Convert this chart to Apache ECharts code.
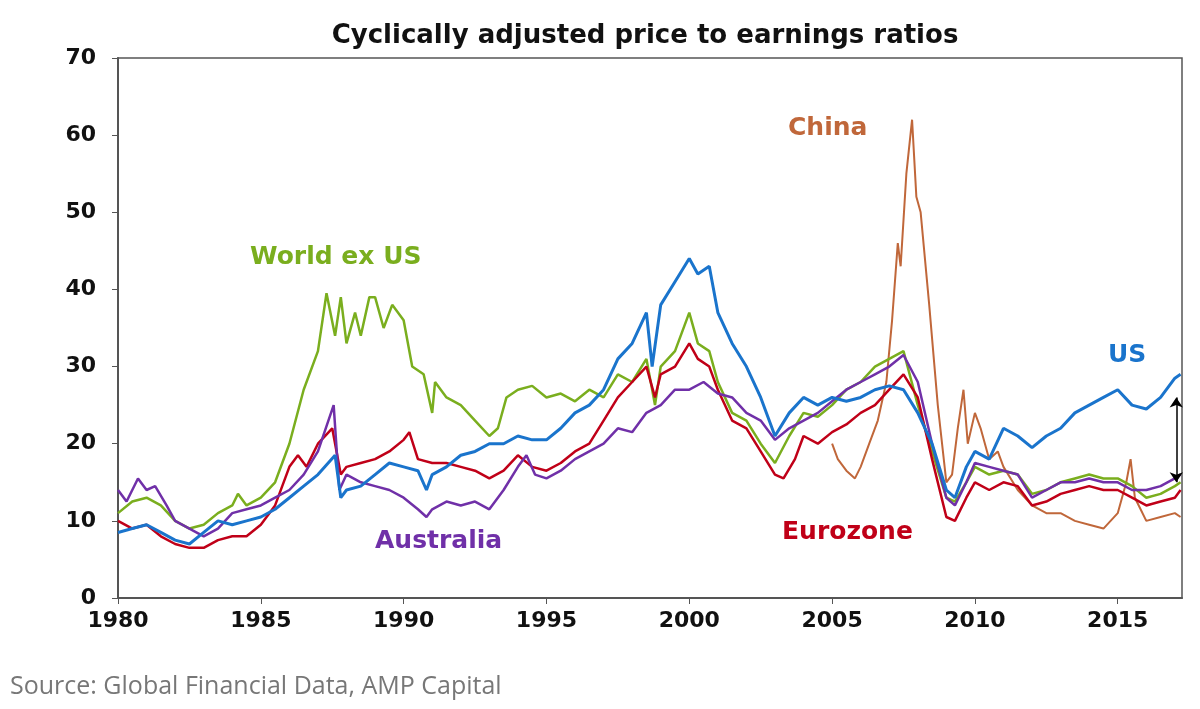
<!doctype html>
<html lang="en">
<head>
    <meta charset="UTF-8">
    <title>Cyclically adjusted price to earnings ratios</title>
    <script type="text/javascript" src="https://cdn.jsdelivr.net/npm/echarts@6/dist/echarts.min.js"></script>
    <style>
        body{margin:0;background:#fff;}
    </style>
</head>
<body>
<div id="main" style="width:1200px;height:709px;"></div>
<script>
    // CAPE values, [year, ratio]
    var us = [[1980,8.5],[1980.5,9],[1981,9.5],[1981.5,8.5],[1982,7.5],[1982.5,7],[1983,8.5],[1983.5,10],[1984,9.5],[1984.5,10],[1985,10.5],[1985.5,11.5],[1986,13],[1986.5,14.5],[1987,16],[1987.6,18.5],[1987.8,13],[1988,14],[1988.5,14.5],[1989,16],[1989.5,17.5],[1990,17],[1990.5,16.5],[1990.8,14],[1991,16],[1991.5,17],[1992,18.5],[1992.5,19],[1993,20],[1993.5,20],[1994,21],[1994.5,20.5],[1995,20.5],[1995.5,22],[1996,24],[1996.5,25],[1997,27],[1997.5,31],[1998,33],[1998.5,37],[1998.7,30],[1999,38],[1999.5,41],[2000,44],[2000.3,42],[2000.7,43],[2001,37],[2001.5,33],[2002,30],[2002.5,26],[2003,21],[2003.5,24],[2004,26],[2004.5,25],[2005,26],[2005.5,25.5],[2006,26],[2006.5,27],[2007,27.5],[2007.5,27],[2008,24],[2008.5,20],[2009,14],[2009.3,13],[2009.7,17],[2010,19],[2010.5,18],[2011,22],[2011.5,21],[2012,19.5],[2012.5,21],[2013,22],[2013.5,24],[2014,25],[2014.5,26],[2015,27],[2015.5,25],[2016,24.5],[2016.5,26],[2017,28.5],[2017.2,29]];
    var world = [[1980,11],[1980.5,12.5],[1981,13],[1981.5,12],[1982,10],[1982.5,9],[1983,9.5],[1983.5,11],[1984,12],[1984.2,13.5],[1984.5,12],[1985,13],[1985.5,15],[1986,20],[1986.5,27],[1987,32],[1987.3,39.5],[1987.6,34],[1987.8,39],[1988,33],[1988.3,37],[1988.5,34],[1988.8,39],[1989,39],[1989.3,35],[1989.6,38],[1990,36],[1990.3,30],[1990.7,29],[1991,24],[1991.1,28],[1991.5,26],[1992,25],[1992.5,23],[1993,21],[1993.3,22],[1993.6,26],[1994,27],[1994.5,27.5],[1995,26],[1995.5,26.5],[1996,25.5],[1996.5,27],[1997,26],[1997.5,29],[1998,28],[1998.5,31],[1998.8,25],[1999,30],[1999.5,32],[2000,37],[2000.3,33],[2000.7,32],[2001,28],[2001.5,24],[2002,23],[2002.5,20],[2003,17.5],[2003.5,21],[2004,24],[2004.5,23.5],[2005,25],[2005.5,27],[2006,28],[2006.5,30],[2007,31],[2007.5,32],[2008,25],[2008.5,19],[2009,13],[2009.3,12.5],[2009.7,15],[2010,17],[2010.5,16],[2011,16.5],[2011.5,16],[2012,13.5],[2012.5,14],[2013,15],[2013.5,15.5],[2014,16],[2014.5,15.5],[2015,15.5],[2015.5,14.5],[2016,13],[2016.5,13.5],[2017,14.5],[2017.2,15]];
    var australia = [[1980,14],[1980.3,12.5],[1980.7,15.5],[1981,14],[1981.3,14.5],[1981.7,12],[1982,10],[1982.5,9],[1983,8],[1983.5,9],[1984,11],[1984.5,11.5],[1985,12],[1985.5,13],[1986,14],[1986.5,16],[1987,19],[1987.55,25],[1987.75,14],[1988,16],[1988.5,15],[1989,14.5],[1989.5,14],[1990,13],[1990.5,11.5],[1990.8,10.5],[1991,11.5],[1991.5,12.5],[1992,12],[1992.5,12.5],[1993,11.5],[1993.5,14],[1994,17],[1994.3,18.5],[1994.6,16],[1995,15.5],[1995.5,16.5],[1996,18],[1996.5,19],[1997,20],[1997.5,22],[1998,21.5],[1998.5,24],[1999,25],[1999.5,27],[2000,27],[2000.5,28],[2001,26.5],[2001.5,26],[2002,24],[2002.5,23],[2003,20.5],[2003.5,22],[2004,23],[2004.5,24],[2005,25.5],[2005.5,27],[2006,28],[2006.5,29],[2007,30],[2007.5,31.5],[2008,28],[2008.5,20],[2009,13],[2009.3,12],[2009.7,15],[2010,17.5],[2010.5,17],[2011,16.5],[2011.5,16],[2012,13],[2012.5,14],[2013,15],[2013.5,15],[2014,15.5],[2014.5,15],[2015,15],[2015.5,14],[2016,14],[2016.5,14.5],[2017,15.5],[2017.2,16]];
    var eurozone = [[1980,10],[1980.5,9],[1981,9.5],[1981.5,8],[1982,7],[1982.5,6.5],[1983,6.5],[1983.5,7.5],[1984,8],[1984.5,8],[1985,9.5],[1985.5,12],[1986,17],[1986.3,18.5],[1986.6,17],[1987,20],[1987.5,22],[1987.8,16],[1988,17],[1988.5,17.5],[1989,18],[1989.5,19],[1990,20.5],[1990.2,21.5],[1990.5,18],[1991,17.5],[1991.5,17.5],[1992,17],[1992.5,16.5],[1993,15.5],[1993.5,16.5],[1994,18.5],[1994.5,17],[1995,16.5],[1995.5,17.5],[1996,19],[1996.5,20],[1997,23],[1997.5,26],[1998,28],[1998.5,30],[1998.8,26],[1999,29],[1999.5,30],[2000,33],[2000.3,31],[2000.7,30],[2001,27],[2001.5,23],[2002,22],[2002.5,19],[2003,16],[2003.3,15.5],[2003.7,18],[2004,21],[2004.5,20],[2005,21.5],[2005.5,22.5],[2006,24],[2006.5,25],[2007,27],[2007.5,29],[2008,26],[2008.5,18],[2009,10.5],[2009.3,10],[2009.7,13],[2010,15],[2010.5,14],[2011,15],[2011.5,14.5],[2012,12],[2012.5,12.5],[2013,13.5],[2013.5,14],[2014,14.5],[2014.5,14],[2015,14],[2015.5,13],[2016,12],[2016.5,12.5],[2017,13],[2017.2,14]];
    var china = [[2005,20],[2005.2,18],[2005.5,16.5],[2005.8,15.5],[2006,17],[2006.3,20],[2006.6,23],[2006.9,28],[2007.1,36],[2007.3,46],[2007.4,43],[2007.6,55],[2007.8,62],[2007.95,52],[2008.1,50],[2008.4,38],[2008.7,25],[2009,15],[2009.2,16],[2009.4,22],[2009.6,27],[2009.75,20],[2010,24],[2010.2,22],[2010.5,18],[2010.8,19],[2011,17],[2011.5,14],[2012,12],[2012.5,11],[2013,11],[2013.5,10],[2014,9.5],[2014.5,9],[2015,11],[2015.3,15],[2015.45,18],[2015.6,13],[2015.8,11.5],[2016,10],[2016.5,10.5],[2017,11],[2017.2,10.5]];

    var myChart = echarts.init(document.getElementById('main'));
    var wide = 'DejaVu Sans, Verdana, sans-serif';

    function line(name, data, color, width) {
        return {name: name, type: 'line', data: data, showSymbol: false,
            lineStyle: {color: color, width: width}, itemStyle: {color: color}, z: 2};
    }

    function label(text, x, y, color) {
        return {type: 'text', left: x, top: y,
            style: {text: text, fill: color, fontSize: 25, fontWeight: 'bold', fontFamily: wide}};
    }

    var option = {
        backgroundColor: '#fff',
        animation: false,
        title: {
            text: 'Cyclically adjusted price to earnings ratios',
            left: 640, textAlign: 'center', top: 18,
            textStyle: {fontSize: 26, fontWeight: 'bold', color: '#111', fontFamily: wide}
        },
        grid: {left: 118, right: 18, top: 58, bottom: 111, show: true, borderColor: '#555', borderWidth: 1.5},
        xAxis: {
            type: 'value', min: 1980, max: 2017.25, interval: 5,
            axisLine: {lineStyle: {color: '#555', width: 2}},
            axisTick: {show: true, length: 6, lineStyle: {color: '#555'}},
            splitLine: {show: false},
            axisLabel: {fontSize: 22, color: '#111', margin: 12, showMaxLabel: false,
                fontFamily: wide, fontWeight: 'bold',
                formatter: function (v) { return v % 5 === 0 ? String(v) : ''; }}
        },
        yAxis: {
            type: 'value', min: 0, max: 70, interval: 10,
            axisLine: {show: true, lineStyle: {color: '#555', width: 2}},
            axisTick: {show: true, length: 6, lineStyle: {color: '#555'}},
            splitLine: {show: false},
            axisLabel: {fontSize: 22, color: '#111', margin: 22, fontFamily: wide, fontWeight: 'bold'}
        },
        series: [
            line('China', china, '#c0673a', 2),
            line('World ex US', world, '#7aae1e', 2.5),
            line('Eurozone', eurozone, '#c00018', 2.5),
            line('Australia', australia, '#7030a8', 2.5),
            (function () {
                var s = line('US', us, '#1a74cc', 3);
                s.markLine = {
                    silent: true, symbol: ['arrow', 'arrow'], symbolSize: 10,
                    lineStyle: {color: '#000', width: 1.5, type: 'solid'}, label: {show: false},
                    data: [[{coord: [2017.05, 26]}, {coord: [2017.05, 15]}]]
                };
                return s;
            })()
        ],
        graphic: [
            label('World ex US', 250, 245, '#7aae1e'),
            label('China', 788, 116, '#c0673a'),
            label('US', 1108, 343, '#1a74cc'),
            label('Australia', 375, 529, '#7030a8'),
            label('Eurozone', 782, 520, '#c00018'),
            {type: 'text', left: 10, top: 674, style: {text: 'Source: Global Financial Data, AMP Capital', fill: '#777', fontSize: 25, fontFamily: 'Open Sans'}}
        ]
    };
    myChart.setOption(option);
</script>
</body>
</html>
